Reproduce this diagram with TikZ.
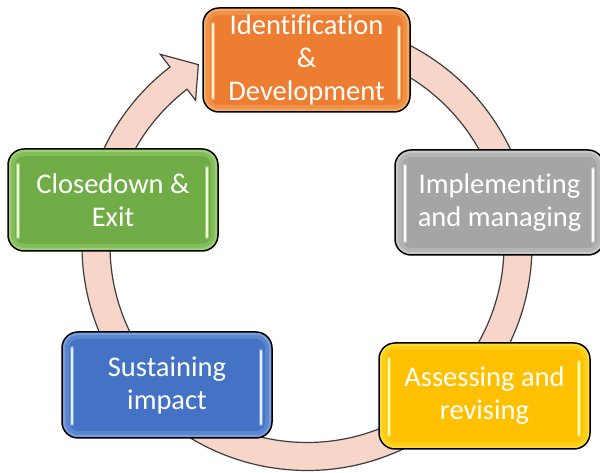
\documentclass[tikz,border=0pt]{standalone}
\usepackage{fontspec}
\setmainfont{Carlito}[Ligatures=NoCommon]
\usetikzlibrary{calc}
\definecolor{ringfill}{HTML}{F8D5C9}
\definecolor{ringline}{HTML}{3C3C3C}
\definecolor{cOrange}{HTML}{ED7D31}
\definecolor{cGray}{HTML}{A5A5A5}
\definecolor{cYellow}{HTML}{FFC000}
\definecolor{cBlue}{HTML}{4472C4}
\definecolor{cGreen}{HTML}{70AD47}
\definecolor{gOrange}{HTML}{FFE3A0}
\definecolor{gGray}{HTML}{F4F4F4}
\definecolor{gYellow}{HTML}{FFFF70}
\definecolor{gBlue}{HTML}{B8D8FF}
\definecolor{gGreen}{HTML}{D8FFB0}
\tikzset{
  ring/.style={fill=ringfill, draw=ringline, line width=1.2pt, line join=miter},
  boxc/.style 2 args={
    rounded corners=16pt, draw=black, line width=1.5pt, fill=#1,
    text=white, align=center, inner sep=0pt,
    font=\fontsize{28.5}{33}\selectfont,
    path picture={
      \draw[#2, line width=14pt, opacity=0.2]
        (path picture bounding box.south west) rectangle (path picture bounding box.north east);
      \draw[#2, line width=6pt, opacity=0.3]
        (path picture bounding box.south west) rectangle (path picture bounding box.north east);
      \draw[#2, line width=4.5pt, opacity=0.45, line cap=round, sharp corners]
        ([shift={(10pt,-16pt)}]path picture bounding box.north west) --
        ([shift={(10pt,14pt)}]path picture bounding box.south west);
      \draw[white!60!#2, line width=1.6pt, line cap=round, sharp corners]
        ([shift={(10pt,-16pt)}]path picture bounding box.north west) --
        ([shift={(10pt,14pt)}]path picture bounding box.south west);
      \draw[#2, line width=4.5pt, opacity=0.45, line cap=round, sharp corners]
        ([shift={(-11pt,-19pt)}]path picture bounding box.north east) --
        ([shift={(-11pt,14pt)}]path picture bounding box.south east);
      \draw[white!60!#2, line width=1.6pt, line cap=round, sharp corners]
        ([shift={(-11pt,-19pt)}]path picture bounding box.north east) --
        ([shift={(-11pt,14pt)}]path picture bounding box.south east);
    }
  }
}
\begin{document}
\begin{tikzpicture}[x=1pt,y=1pt]
\useasboundingbox (0,0) rectangle (600,473);
\fill[white] (0,0) rectangle (600,473);
\coordinate (c) at (307,227.5);
% cycle arrow
\path[ring] ($(c)+(85:225)$) arc[start angle=85, end angle=-232.5, radius=225]
  -- ($(c)+(127.5:241)$) -- ($(c)+(121:211)$) -- ($(c)+(127.5:183)$)
  -- ($(c)+(127.5:197)$) arc[start angle=127.5, end angle=445, radius=197] -- cycle;
% boxes
\node[boxc={cOrange}{gOrange}, minimum width=207pt, minimum height=104pt] (ident) at (306.5,413) {Identification\\\&\\Development};
\node[boxc={cGray}{gGray}, minimum width=209pt, minimum height=105pt] (impl) at (499.5,270.5) {Implementing\\and managing};
\node[boxc={cYellow}{gYellow}, minimum width=211pt, minimum height=106pt] (assess) at (484.5,77) {Assessing and\\revising};
\node[boxc={cBlue}{gBlue}, minimum width=210pt, minimum height=106pt] (sustain) at (167,88) {Sustaining\\impact};
\node[boxc={cGreen}{gGreen}, minimum width=210pt, minimum height=102pt] (close) at (113,273) {Closedown \&\\Exit};
\end{tikzpicture}
\end{document}
